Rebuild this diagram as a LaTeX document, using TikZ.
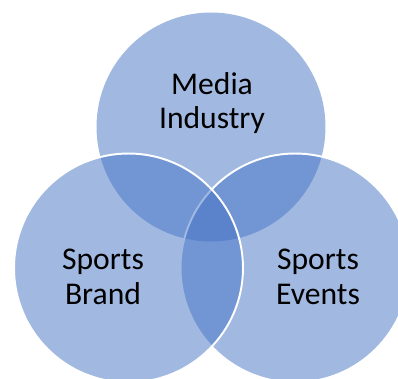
\documentclass[tikz,border=0pt]{standalone}
\usepackage{fontspec}
\setmainfont{Carlito}
\definecolor{vennblue}{RGB}{68,114,196}
\begin{document}
\begin{tikzpicture}[
  x=0.02cm,y=-0.02cm,
  venn/.style={circle,minimum size=4.58cm,inner sep=0pt,fill=vennblue,fill opacity=0.5,draw=white,line width=1.1pt},
  vennlabel/.style={align=center,anchor=base,font=\fontsize{18}{19.4}\selectfont,text=black}
]
  \useasboundingbox (0,0) rectangle (398,378);
  \clip (0,0) rectangle (398,378);

  \node[venn,draw=none] (media)  at (211,127)   {};
  \node[venn]           (events) at (295,268)   {};
  \node[venn]           (brand)  at (128.5,268) {};

  % base anchor sits on the last line
  \node[vennlabel] (mediatext)  at (212,129) {Media\\Industry};
  \node[vennlabel] (brandtext)  at (103,304) {Sports\\Brand};
  \node[vennlabel] (eventstext) at (318,304) {Sports\\Events};
\end{tikzpicture}
\end{document}
